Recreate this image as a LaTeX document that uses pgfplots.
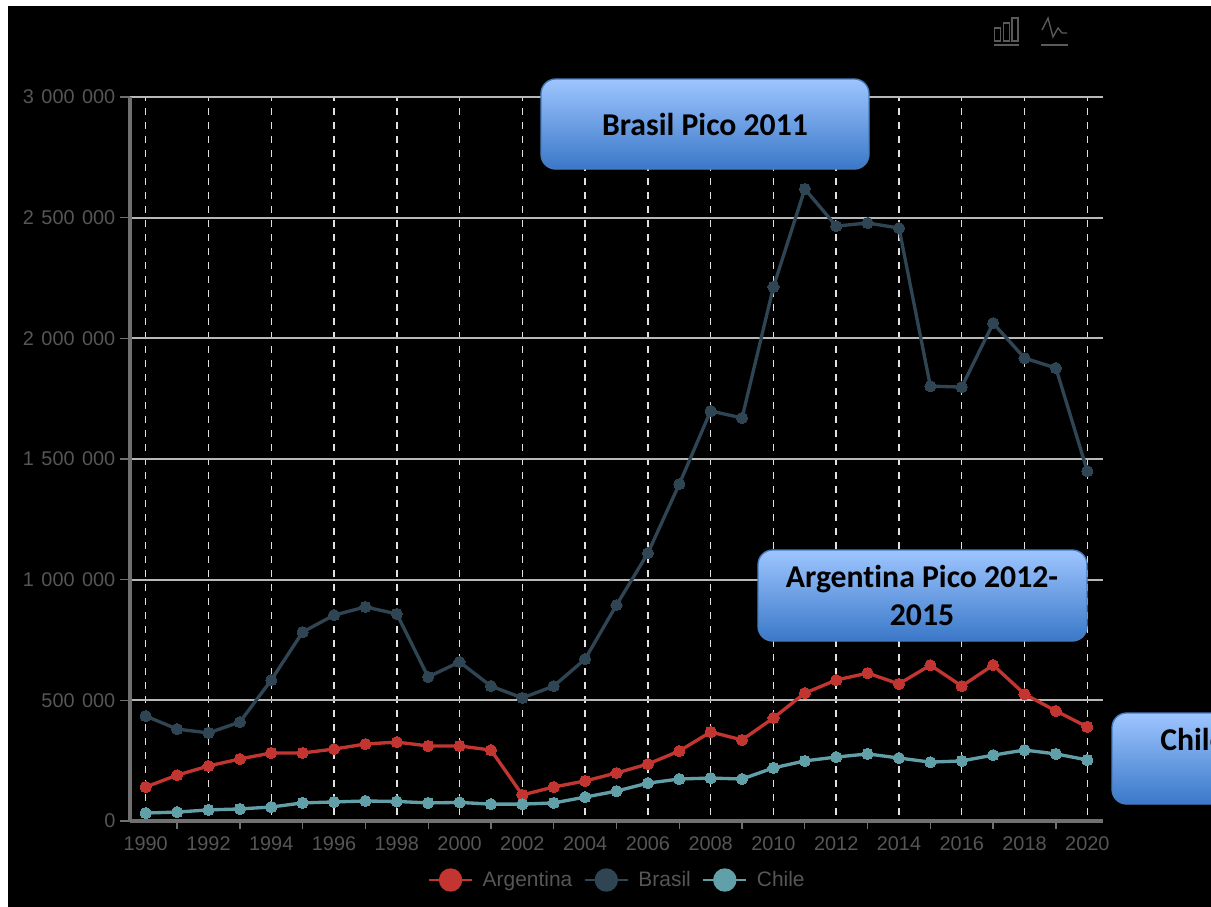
\documentclass[border=0pt]{standalone}
\usepackage{pgfplots}
\pgfplotsset{compat=1.18}
\usepackage{fontspec}
\setmainfont{Liberation Sans}
\newfontfamily\calloutfont{Carlito}[BoldFont={Carlito Bold},Ligatures=NoCommon]
\newcommand\gp{\hskip0.38em\relax}

\definecolor{argcol}{HTML}{C23531}
\definecolor{bracol}{HTML}{2F4554}
\definecolor{chicol}{HTML}{61A0A8}
\definecolor{axiscol}{HTML}{707070}
\definecolor{labelcol}{HTML}{565656}
\definecolor{iconcol}{HTML}{5A5A5A}
\definecolor{boxtop}{RGB}{158,197,255}
\definecolor{boxmid}{RGB}{125,170,235}
\definecolor{boxbot}{RGB}{58,120,200}
\definecolor{boxedge}{RGB}{70,125,190}

\pgfplotstableread{
year argentina brasil chile
1990 141000 435000 33000
1991 190000 381000 37000
1992 228000 365000 46000
1993 257000 410000 50000
1994 282000 584000 58000
1995 282000 783000 75000
1996 298000 853000 79000
1997 319000 887000 83000
1998 327000 858000 81000
1999 311000 597000 75000
2000 311000 659000 77000
2001 294000 559000 70000
2002 108000 510000 70000
2003 141000 559000 75000
2004 166000 671000 99000
2005 199000 895000 124000
2006 236000 1110000 157000
2007 290000 1396000 174000
2008 369000 1699000 178000
2009 336000 1670000 174000
2010 427000 2213000 220000
2011 530000 2619000 249000
2012 584000 2465000 265000
2013 613000 2478000 278000
2014 568000 2457000 261000
2015 646000 1802000 244000
2016 559000 1798000 249000
2017 646000 2063000 273000
2018 526000 1918000 294000
2019 456000 1877000 278000
2020 390000 1450000 253000
}\flowtable

\begin{document}
\begin{tikzpicture}
\path[use as bounding box] (0,-680.25pt) rectangle (908.25pt,0);
% page ground, in pixel-like units measured from the top left corner
\begin{scope}[x=0.75pt,y=-0.75pt]
  \fill[white] (0,0) rectangle (1211,907);
  \fill[black] (8,6) rectangle (1211,907);
\end{scope}

\begin{axis}[
  at={(97.5pt,-615.75pt)}, anchor=south west,
  scale only axis, width=729.75pt, height=543pt,
  xmin=1989.5, xmax=2020.5, ymin=0, ymax=3000000,
  clip=false,
  axis x line=bottom, axis y line=left,
  axis line style={-},
  every outer x axis line/.append style={draw=axiscol, line width=2.4pt},
  every outer y axis line/.append style={draw=axiscol, line width=2.4pt},
  xtick={1990,1992,...,2020},
  xticklabels={1990,1992,1994,1996,1998,2000,2002,2004,2006,2008,2010,2012,2014,2016,2018,2020},
  minor xtick={1991,1993,...,2019},
  ytick={0,500000,1000000,1500000,2000000,2500000,3000000},
  yticklabels={0,500\gp000,1\gp000\gp000,1\gp500\gp000,2\gp000\gp000,2\gp500\gp000,3\gp000\gp000},
  scaled y ticks=false,
  tick align=outside,
  major tick length=7.5pt,
  minor tick length=6pt,
  major x tick style={draw=none},
  minor x tick style={draw=axiscol, line width=1pt},
  major y tick style={draw=axiscol, line width=1.2pt},
  xmajorgrids, ymajorgrids,
  x grid style={draw=white!88!black, line width=1.1pt,
    dash pattern=on 5.25pt off 5.25pt, dash phase=6pt},
  y grid style={draw=white!72!black, line width=1.3pt},
  xticklabel style={font=\fontsize{14.9}{16}\selectfont, text=labelcol, yshift=-1pt},
  yticklabel style={font=\fontsize{14.9}{16}\selectfont, text=labelcol},
  legend columns=3,
  legend cell align=left,
  legend style={at={(0.5015,-0.0815)}, anchor=center, draw=none, fill=none,
    font=\fontsize{15.7}{18}\selectfont, text=labelcol,
    /tikz/column 1/.style={column sep=5.6pt},
    /tikz/column 2/.style={column sep=7pt},
    /tikz/column 3/.style={column sep=5.6pt},
    /tikz/column 4/.style={column sep=7pt},
    /tikz/column 5/.style={column sep=5.6pt}},
]
\addplot[argcol, line width=2.5pt, mark=*, mark size=4.2pt,
  mark options={fill=argcol, draw=argcol, line width=0pt},
  legend image code/.code={
    \draw[argcol, line width=1pt] (0,0) -- (32pt,0);
    \fill[argcol] (16pt,0) circle (7.5pt);}]
  table[x=year, y=argentina] {\flowtable};
\addlegendentry{Argentina}
\addplot[bracol, line width=2.5pt, mark=*, mark size=4.2pt,
  mark options={fill=bracol, draw=bracol, line width=0pt},
  legend image code/.code={
    \draw[bracol, line width=1pt] (0,0) -- (32pt,0);
    \fill[bracol] (16pt,0) circle (7.5pt);}]
  table[x=year, y=brasil] {\flowtable};
\addlegendentry{Brasil}
\addplot[chicol, line width=2.5pt, mark=*, mark size=4.2pt,
  mark options={fill=chicol, draw=chicol, line width=0pt},
  legend image code/.code={
    \draw[chicol, line width=1pt] (0,0) -- (32pt,0);
    \fill[chicol] (16pt,0) circle (7.5pt);}]
  table[x=year, y=chile] {\flowtable};
\addlegendentry{Chile}
\end{axis}

\begin{scope}[x=0.75pt,y=-0.75pt]
  \clip (0,0) rectangle (1211,907);
  \tikzset{callout/.style={draw=boxedge, line width=1pt, rounded corners=11pt,
      top color=boxtop, middle color=boxmid, bottom color=boxbot},
    callouttext/.style={text=black, font=\calloutfont\fontsize{23.8}{28.5}\selectfont\bfseries}}
  % callouts
  \path[callout] (541,79) rectangle (869,169);
  \node[callouttext] at (705,124.5) {Brasil Pico 2011};
  \path[callout] (758,550) rectangle (1087,641);
  \node[callouttext, align=center] at (922,595.5) {Argentina Pico 2012-\\2015};
  \path[callout] (1112,713) rectangle (1440,804);
  \node[callouttext, anchor=west, inner sep=0pt] at (1160,739.5) {Chile};
  % toolbar icons
  \draw[iconcol, line width=1pt] (994.5,28) rectangle (1000.5,41)
    (1003.5,23) rectangle (1009.5,41) (1012,18) rectangle (1018,41);
  \draw[iconcol, line width=1.1pt] (994,45) -- (1019,45);
  \draw[iconcol, line width=1pt] (1042,30) -- (1048,18) -- (1053,37) -- (1058,28)
    -- (1062,33) -- (1067,33);
  \draw[iconcol, line width=1.1pt] (1041,45) -- (1068,45);
\end{scope}
\end{tikzpicture}
\end{document}
